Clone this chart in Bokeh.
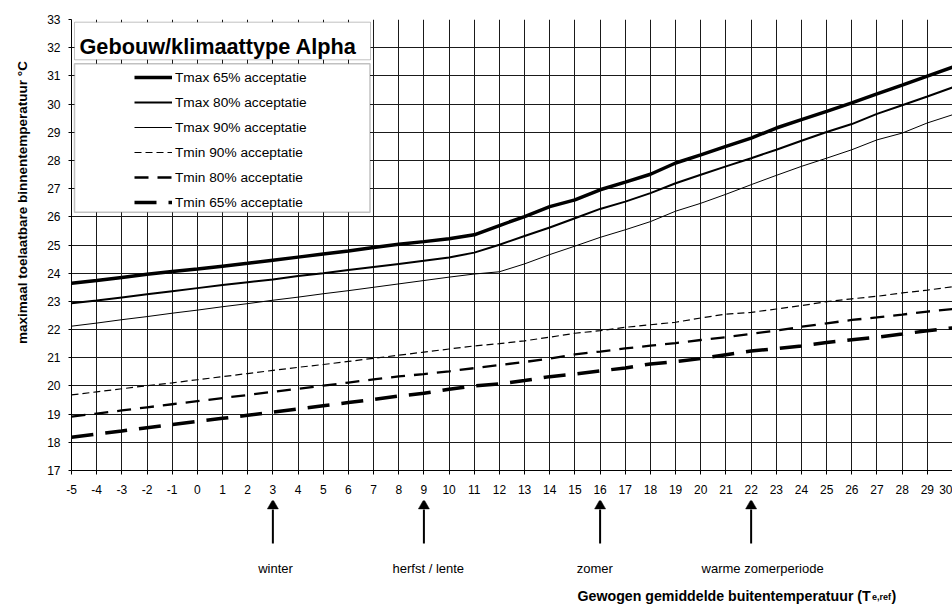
import math

from bokeh.plotting import figure
from bokeh.layouts import row, column
from bokeh.models import (Range1d, FixedTicker, Legend, LegendItem, Label,
                          BoxAnnotation)
from bokeh.core.properties import value
from bokeh.embed import file_html
from bokeh.resources import INLINE

# Weighted mean outdoor reference temperature (°C)
outdoor_temp = list(range(-5, 31))

# Maximum / minimum allowed indoor temperature per acceptance level (°C)
tmax_65 = [23.64, 23.74, 23.85, 23.96, 24.06, 24.15, 24.25, 24.35, 24.46, 24.57,
           24.68, 24.79, 24.91, 25.03, 25.12, 25.22, 25.36, 25.69, 26.01, 26.36,
           26.60, 26.96, 27.23, 27.51, 27.91, 28.20, 28.50, 28.79, 29.15, 29.45,
           29.74, 30.04, 30.36, 30.67, 30.99, 31.31]
tmax_80 = [22.93, 23.03, 23.14, 23.25, 23.36, 23.47, 23.58, 23.68, 23.78, 23.90,
           24.00, 24.11, 24.22, 24.33, 24.44, 24.56, 24.73, 25.01, 25.32, 25.62,
           25.95, 26.28, 26.54, 26.84, 27.19, 27.49, 27.79, 28.08, 28.38, 28.70,
           29.01, 29.29, 29.65, 29.96, 30.27, 30.59]
tmax_90 = [22.12, 22.23, 22.35, 22.46, 22.58, 22.69, 22.81, 22.92, 23.04, 23.15,
           23.27, 23.38, 23.50, 23.62, 23.74, 23.86, 23.97, 24.05, 24.33, 24.66,
           24.96, 25.27, 25.54, 25.83, 26.20, 26.48, 26.80, 27.14, 27.47, 27.79,
           28.08, 28.38, 28.73, 28.97, 29.33, 29.62]
tmin_90 = [19.68, 19.79, 19.90, 20.01, 20.11, 20.22, 20.33, 20.44, 20.55, 20.66,
           20.76, 20.87, 20.98, 21.09, 21.20, 21.31, 21.42, 21.50, 21.60, 21.73,
           21.87, 21.96, 22.08, 22.17, 22.26, 22.41, 22.55, 22.61, 22.73, 22.85,
           22.99, 23.09, 23.18, 23.30, 23.40, 23.52]
tmin_80 = [18.91, 19.02, 19.13, 19.24, 19.35, 19.46, 19.57, 19.68, 19.79, 19.90,
           20.01, 20.12, 20.23, 20.34, 20.42, 20.52, 20.63, 20.74, 20.85, 20.97,
           21.12, 21.22, 21.33, 21.43, 21.52, 21.63, 21.73, 21.85, 21.96, 22.10,
           22.22, 22.34, 22.43, 22.53, 22.64, 22.73]
tmin_65 = [18.18, 18.29, 18.40, 18.52, 18.63, 18.74, 18.85, 18.96, 19.07, 19.18,
           19.30, 19.41, 19.52, 19.64, 19.74, 19.88, 20.00, 20.07, 20.19, 20.33,
           20.42, 20.53, 20.64, 20.78, 20.86, 20.97, 21.11, 21.24, 21.32, 21.42,
           21.54, 21.64, 21.73, 21.84, 21.96, 22.06]

series_names = ["Tmax 65% acceptatie", "Tmax 80% acceptatie", "Tmax 90% acceptatie",
                "Tmin 90% acceptatie", "Tmin 80% acceptatie", "Tmin 65% acceptatie"]
x_ticks = list(range(-5, 31))
y_ticks = list(range(17, 34))

# Season markers under the horizontal axis
season_temps = [3, 9, 16, 22]
season_names = ["winter", "herfst / lente", "zomer", "warme zomerperiode"]

chart_title = "Gebouw/klimaattype Alpha"
y_title = "maximaal toelaatbare binnentemperatuur °C"
x_title = "Gewogen gemiddelde buitentemperatuur (T"
x_title_sub = "e,ref"

# ---- layout -------------------------------------------------------------
FONT = "Liberation Sans"
W, H = 952, 604
STRIP_W = 40            # left strip holding the vertical axis title
MAIN_H = 500            # chart panel height; the caption strip fills the rest
FRAME_LEFT, TOP, AXIS_Y = 71, 19, 470
x_lo, x_hi = x_ticks[0], x_ticks[-1]
y_lo, y_hi = y_ticks[0], y_ticks[-1]
px_per_x = (W - FRAME_LEFT) / (x_hi - x_lo)


def data_x(px):
    return x_lo + (px - FRAME_LEFT) / px_per_x


def data_y(py):
    return y_lo + (AXIS_Y - py) * (y_hi - y_lo) / (AXIS_Y - TOP)


x_range = Range1d(x_lo, x_hi)

p = figure(width=W - STRIP_W, height=MAIN_H,
           x_range=x_range, y_range=Range1d(y_lo, y_hi),
           output_backend="svg", toolbar_location=None,
           min_border_left=FRAME_LEFT - STRIP_W, min_border_right=0,
           min_border_top=TOP, min_border_bottom=MAIN_H - AXIS_Y,
           background_fill_color="white", border_fill_color="white",
           outline_line_color=None)

# axes (plain hyphen-minus labels)
p.xaxis.ticker = FixedTicker(ticks=x_ticks)
p.yaxis.ticker = FixedTicker(ticks=y_ticks)
p.xaxis.major_label_overrides = {t: str(t) for t in x_ticks}
p.yaxis.major_label_overrides = {t: str(t) for t in y_ticks}
for ax in (p.xaxis[0], p.yaxis[0]):
    ax.axis_line_color = "black"
    ax.axis_line_width = 1
    ax.major_tick_line_color = "black"
    ax.major_tick_in = 0
    ax.minor_tick_line_color = None
    ax.major_label_text_font = FONT
    ax.major_label_text_font_size = "12px"
    ax.major_label_text_color = "black"
p.xaxis.major_tick_out = 4
p.xaxis.major_label_standoff = 10
p.yaxis.major_tick_out = 3
p.yaxis.major_label_standoff = 8

# grid (no line on the right-hand edge)
p.xgrid.ticker = FixedTicker(ticks=x_ticks[:-1])
p.ygrid.ticker = FixedTicker(ticks=y_ticks)
for g in (p.xgrid[0], p.ygrid[0]):
    g.grid_line_color = "#1a1a1a"
    g.grid_line_width = 1

# series
series = [tmax_65, tmax_80, tmax_90, tmin_90, tmin_80, tmin_65]
styles = [(3.5, "solid"), (2, "solid"), (1, "solid"),
          (1.2, "7 4"), (2.3, "14 9"), (3.5, "22 12")]
renderers = []
for ys, (lw, dash) in zip(series, styles):
    r = p.line(outdoor_temp, ys, line_color="black", line_width=lw, line_dash=dash)
    renderers.append(r)

# title box and legend box
p.add_layout(BoxAnnotation(left=data_x(74), right=data_x(370),
                           top=data_y(21.7), bottom=data_y(59.3),
                           fill_color="white", fill_alpha=1,
                           line_color="#333333", line_width=1))
p.add_layout(BoxAnnotation(left=data_x(74), right=data_x(369.5),
                           top=data_y(63.3), bottom=data_y(211.7),
                           fill_color="white", fill_alpha=1,
                           line_color="#333333", line_width=1.5))

legend = Legend(items=[LegendItem(label=n, renderers=[r])
                       for n, r in zip(series_names, renderers)],
                location=(137 - 3 - FRAME_LEFT, AXIS_Y - 211),
                orientation="vertical", padding=3, spacing=7, margin=0,
                label_height=18, glyph_height=18, glyph_width=38,
                label_standoff=3, label_text_font=FONT,
                label_text_font_size="13.7px", label_text_color="black",
                background_fill_alpha=0, border_line_color=None)
p.add_layout(legend, "center")

p.add_layout(Label(x=data_x(79), y=data_y(45.5), text=chart_title,
                   text_font=FONT, text_font_style="bold", text_font_size="21.7px",
                   text_align="left", text_baseline="alphabetic", text_color="black"))

# ---- caption strip below the chart (y in page pixels, top = MAIN_H) ------
b = figure(width=W - STRIP_W, height=H - MAIN_H,
           x_range=x_range, y_range=Range1d(H, MAIN_H),
           x_axis_type=None, y_axis_type=None,
           output_backend="svg", toolbar_location=None,
           min_border_left=FRAME_LEFT - STRIP_W, min_border_right=0,
           min_border_top=0, min_border_bottom=0,
           background_fill_color="white", border_fill_color="white",
           outline_line_color=None)
b.grid.visible = False

# arrows pointing at the season temperatures
b.segment(x0=season_temps, y0=[543] * len(season_temps),
          x1=season_temps, y1=[509] * len(season_temps),
          line_color="black", line_width=2)
b.scatter(x=season_temps, y=[505.2] * len(season_temps), marker="triangle",
          size=11, fill_color="black", line_color="black", line_width=0.5)

nudges = [2.7, 4.4, -5.3, 11.5]
b.text(x=season_temps, y=[567.5] * len(season_temps), text=season_names,
       x_offset=nudges, text_align="center", text_baseline="alphabetic",
       text_font=value(FONT), text_font_size=value("13px"), text_color="black")

b.add_layout(Label(x=data_x(577), y=595.5, text=x_title,
                   text_align="left", text_baseline="alphabetic",
                   text_font=FONT, text_font_style="bold", text_font_size="14.2px",
                   text_color="black"))
b.add_layout(Label(x=data_x(871.5), y=596.5, text=x_title_sub,
                   text_align="left", text_baseline="alphabetic",
                   text_font=FONT, text_font_style="bold", text_font_size="9px",
                   text_color="black"))
b.add_layout(Label(x=data_x(891), y=595.5, text=")",
                   text_align="left", text_baseline="alphabetic",
                   text_font=FONT, text_font_style="bold", text_font_size="14.2px",
                   text_color="black"))

# ---- left strip with the vertical axis title (page pixels) ---------------
s = figure(width=STRIP_W, height=H,
           x_range=Range1d(0, STRIP_W), y_range=Range1d(H, 0),
           x_axis_type=None, y_axis_type=None,
           output_backend="svg", toolbar_location=None,
           min_border_left=0, min_border_right=0,
           min_border_top=0, min_border_bottom=0,
           background_fill_color="white", border_fill_color="white",
           outline_line_color=None)
s.grid.visible = False
s.add_layout(Label(x=22, y=202, text=y_title, angle=math.pi / 2,
                   text_align="center", text_baseline="middle",
                   text_font=FONT, text_font_style="bold", text_font_size="13.5px",
                   text_color="black"))

page = row(s, column(p, b, spacing=0), spacing=0)

open("out.html", "w").write(file_html(page, INLINE))
